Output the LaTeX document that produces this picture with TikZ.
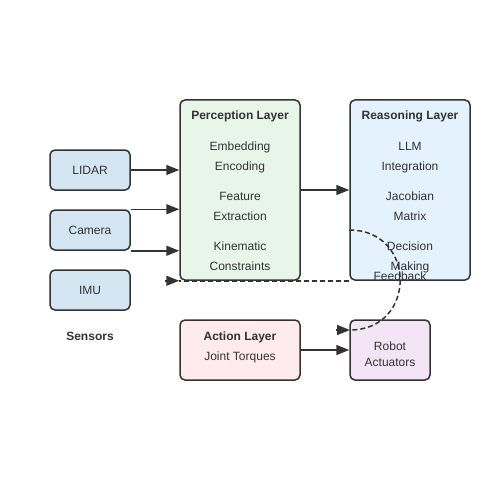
\documentclass[tikz,border=0pt]{standalone}
\usepackage{fontspec}
\setmainfont{Liberation Sans}
\usetikzlibrary{arrows.meta}

\definecolor{ink}{HTML}{333333}
\definecolor{sensorblue}{HTML}{D4E6F1}
\definecolor{percgreen}{HTML}{E8F5E9}
\definecolor{reasonblue}{HTML}{E3F2FD}
\definecolor{actpink}{HTML}{FFEBEE}
\definecolor{robotlilac}{HTML}{F3E5F5}

\begin{document}
\begin{tikzpicture}[x=1pt,y=-1pt,
	every node/.style={font=\fontsize{12}{14}\selectfont,text=ink},
	box/.style={draw=ink,line width=1.5pt,rounded corners=5pt,inner sep=0pt},
	line/.style={draw=ink,line width=1.5pt},
	tip/.style={-{Triangle[length=13pt,width=10pt]}},
	fb/.style={dash pattern=on 5pt off 3pt},
	lbl/.style={anchor=base},
	ttl/.style={anchor=base,font=\fontsize{12}{14}\selectfont\bfseries}]

	\useasboundingbox (0,0) rectangle (500,500);

	%\draw[help lines,step=10] (0,0) grid (500,500);

	\def\lw{120}
	\def\lh{180}

	% sensors
	\foreach \n/\t/\y in {lidar/LIDAR/170,camera/Camera/230,imu/IMU/290} {
		\node[box,fill=sensorblue,minimum width=80pt,minimum height=40pt] (\n) at (90,\y) {\t};
	}
	\node[ttl] (sensors) at (90,340) {Sensors};

	% layers
	\node[box,fill=percgreen,minimum width=\lw pt,minimum height=\lh pt] (perception) at (240,190) {};
	\node[ttl] (ptitle) at (240,120) {Perception Layer};
	\foreach \t/\y [count=\i] in {Embedding/150,Encoding/170,Feature/200,Extraction/220,Kinematic/250,Constraints/270}
		\node[lbl] (p\i) at (240,\y) {\t};

	\node[box,fill=reasonblue,minimum width=\lw pt,minimum height=\lh pt] (reasoning) at (410,190) {};
	\node[ttl] (rtitle) at (410,120) {Reasoning Layer};
	\foreach \t/\y [count=\i] in {LLM/150,Integration/170,Jacobian/200,Matrix/220,Decision/250,Making/270}
		\node[lbl] (r\i) at (410,\y) {\t};

	\node[box,fill=actpink,minimum width=\lw pt,minimum height=60pt] (action) at (240,350) {};
	\node[ttl] (atitle) at (240,340) {Action Layer};
	\node[lbl] (a1) at (240,360) {Joint Torques};

	\node[box,fill=robotlilac,minimum width=80pt,minimum height=60pt] (robot) at (390,350) {};
	\node[lbl] (b1) at (390,350.5) {Robot};
	\node[lbl] (b2) at (390,366) {Actuators};

	% arrows
	\draw[line,tip] (lidar.east) -- (lidar.east -| perception.west);
	\draw[line,tip] (camera.north east) -- (camera.north east -| perception.west);
	\draw[line,tip] (camera.south east) -- (camera.south east -| perception.west);
	\draw[line,tip] (perception.east) -- (reasoning.west);
	\draw[line,tip] (action.east) -- (robot.west);

	% feedback
	\coordinate (fbstart) at (reasoning.west |- camera);
	\coordinate (fbend) at (350,330);
	\draw[line,fb] (fbstart) .. controls (417,230) and (417,330) .. (fbend);
	\draw[line,tip] ([xshift=-14pt]fbend) -- (fbend);
	\draw[line,fb] (reasoning.south west) -- (perception.south west);
	\draw[line,tip] ([xshift=-14pt]perception.south west) -- (perception.south west);
	\node[lbl] (feedback) at (400,280) {Feedback};

\end{tikzpicture}
\end{document}
